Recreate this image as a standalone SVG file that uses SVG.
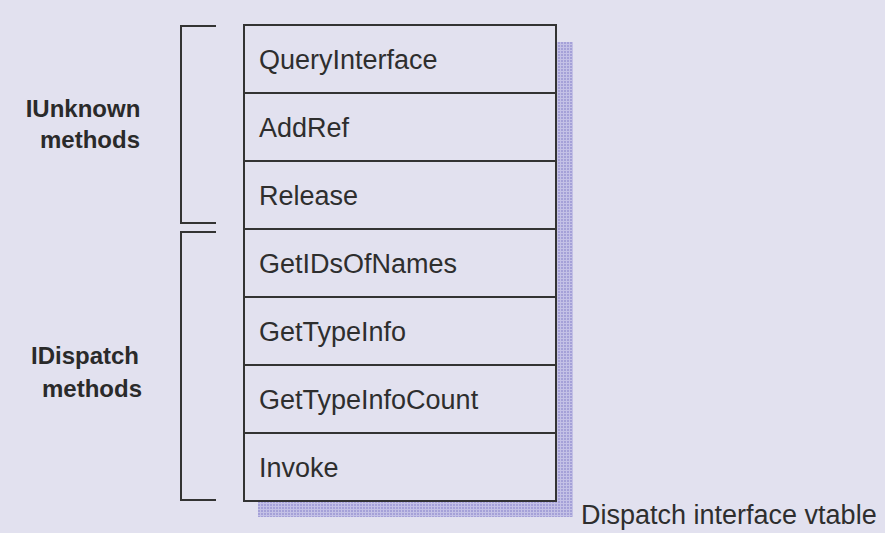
<svg xmlns="http://www.w3.org/2000/svg" width="885" height="533" viewBox="0 0 885 533">
<defs>
<pattern id="dots" width="3" height="3" patternUnits="userSpaceOnUse">
<rect width="3" height="3" fill="#c4c1e6"/>
<rect width="2" height="2" fill="#a5a1d8"/>
</pattern>
<style>
.cell{fill:#e2e1ef;stroke:#333;stroke-width:2}
.t{font-family:"Liberation Sans",Arial,sans-serif;font-size:27px;fill:#2e2e2e}
.b{font-family:"Liberation Sans",Arial,sans-serif;font-size:24px;font-weight:bold;fill:#2a2a2a;text-anchor:middle}
.br{fill:none;stroke:#333;stroke-width:2}
</style>
</defs>
<rect width="885" height="533" fill="#e2e1ef"/>
<g id="shadow">
<rect x="557" y="42" width="16" height="475" fill="url(#dots)"/>
<rect x="258" y="501" width="315" height="16" fill="url(#dots)"/>
</g>
<g id="vtable">
<g id="row-QueryInterface"><rect class="cell" x="244" y="25" width="312" height="68"/><text class="t" x="259" y="69">QueryInterface</text></g>
<g id="row-AddRef"><rect class="cell" x="244" y="93" width="312" height="68"/><text class="t" x="259" y="137">AddRef</text></g>
<g id="row-Release"><rect class="cell" x="244" y="161" width="312" height="68"/><text class="t" x="259" y="205">Release</text></g>
<g id="row-GetIDsOfNames"><rect class="cell" x="244" y="229" width="312" height="68"/><text class="t" x="259" y="273">GetIDsOfNames</text></g>
<g id="row-GetTypeInfo"><rect class="cell" x="244" y="297" width="312" height="68"/><text class="t" x="259" y="341">GetTypeInfo</text></g>
<g id="row-GetTypeInfoCount"><rect class="cell" x="244" y="365" width="312" height="68"/><text class="t" x="259" y="409">GetTypeInfoCount</text></g>
<g id="row-Invoke"><rect class="cell" x="244" y="433" width="312" height="68"/><text class="t" x="259" y="477">Invoke</text></g>
</g>
<g id="connectors">
<path class="br" d="M216,26 H181 V223 H216"/>
<path class="br" d="M216,232 H181 V500 H216"/>
</g>
<g id="label-iunknown">
<text class="b" x="83" y="117">IUnknown</text>
<text class="b" x="90" y="148">methods</text>
</g>
<g id="label-idispatch">
<text class="b" x="85" y="364">IDispatch</text>
<text class="b" x="92" y="397">methods</text>
</g>
<g id="caption"><text class="t" x="581" y="524">Dispatch interface vtable</text></g>
</svg>
